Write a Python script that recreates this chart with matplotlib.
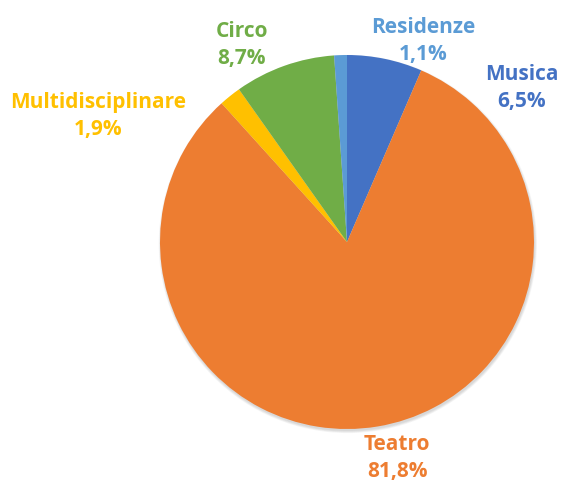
import matplotlib
matplotlib.use("Agg")
import matplotlib.pyplot as plt
from matplotlib.patches import Circle

categories = ['Musica', 'Teatro', 'Multidisciplinare', 'Circo', 'Residenze']
values = [6.5, 81.8, 1.9, 8.7, 1.1]
labels = ['6,5%', '81,8%', '1,9%', '8,7%', '1,1%']
colors = ['#4472C4', '#ED7D31', '#FFC000', '#70AD47', '#5B9BD5']
# label anchor in pixels: centre x and baseline y of the category line
label_px = [(522, 80), (397, 450), (98, 108), (242, 37), (423, 33)]

W, H = 563, 482
cx, cy, r = 347, 242, 187
gap = 27

fig = plt.figure(figsize=(W / 100, H / 100), dpi=100)
ax = fig.add_axes([(cx - r) / W, (H - cy - r) / H, 2 * r / W, 2 * r / H])

# soft shadow under the pie, mostly below
for k in range(4):
    ax.add_patch(Circle((0.8 / r, -2.0 / r), 1 + k * 0.7 / r, color='black',
                        alpha=0.04, lw=0, zorder=0, clip_on=False))

ax.pie(values, colors=colors, startangle=90, counterclock=False, radius=1,
       wedgeprops=dict(edgecolor='none', linewidth=0, zorder=2))
ax.set_xlim(-1, 1)
ax.set_ylim(-1, 1)
ax.set_aspect('equal')
ax.axis('off')

for cat, lab, col, (px, py) in zip(categories, labels, colors, label_px):
    x = (px - cx) / r
    for i, s in enumerate([cat, lab]):
        y = (cy - py - i * gap) / r
        ax.text(x, y, s, color=col, ha='center', va='baseline',
                fontsize=15, fontweight='bold', family='Open Sans',
                clip_on=False)

fig.savefig('out.png', dpi=100)
